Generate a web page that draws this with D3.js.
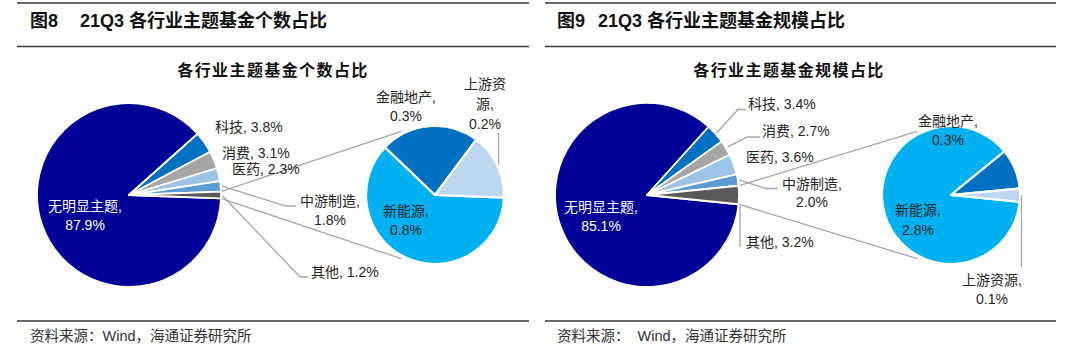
<!DOCTYPE html>
<html><head><meta charset="utf-8">
<script src="https://cdn.jsdelivr.net/npm/d3@7"></script>
<style>
html,body{margin:0;padding:0;background:#fff;}
svg{display:block;}
text{font-family:"Liberation Sans","Noto Sans CJK SC",sans-serif;white-space:pre;}
</style></head><body>
<svg id="chart" width="1080" height="350"></svg>
<script>
// ---------------- data ----------------
const figNumbers = ["图8", "图9"];
const figTitles = ["21Q3 各行业主题基金个数占比", "21Q3 各行业主题基金规模占比"];
const chartTitles = ["各行业主题基金个数占比", "各行业主题基金规模占比"];
const sourceTexts = ["资料来源：Wind，海通证券研究所", "资料来源：  Wind，海通证券研究所"];

const mainCategories = ["无明显主题", "科技", "消费", "医药", "中游制造", "其他"];
const countMainValues = [87.9, 3.8, 3.1, 2.3, 1.8, 1.2];
const scaleMainValues = [85.1, 3.4, 2.7, 3.6, 2.0, 3.2];

const subCategories = ["新能源", "金融地产", "上游资源"];
const countSubValues = [0.8, 0.3, 0.2];
const scaleSubValues = [2.8, 0.3, 0.1];

// ---------------- styles ----------------
const mainColors = ["#000096", "#0070C0", "#A6A6A6", "#9DC3E6", "#5B9BD5", "#595959"];
const subColors = ["#00B0F0", "#0070C0", "#BDD7EE"];
const mainColor = d3.scaleOrdinal().domain(mainCategories).range(mainColors);
const subColor = d3.scaleOrdinal().domain(subCategories).range(subColors);

// ---------------- layout ----------------
const panels = [
  {
    x0: 17, x1: 529, figNumX: 30, figTitleX: 80, chartTitleX: 273, sourceX: 30,
    mainValues: countMainValues, subValues: countSubValues,
    main: {cx: 129, cy: 195, r: 92}, sub: {cx: 435, cy: 195, r: 69},
    labels: {
      "无明显主题": {mode: 2, x: 85, y: 211, dy: 19, anchor: "middle", fill: "#fff"},
      "科技": {mode: 1, x: 215, y: 132, anchor: "start"},
      "消费": {mode: 1, x: 222, y: 158, anchor: "start"},
      "医药": {mode: 1, x: 232, y: 173.5, anchor: "start"},
      "中游制造": {mode: 2, x: 330, y: 206, dy: 19, anchor: "middle", leader: {frac: 0.5, pts: [[286, 206], [296, 206]]}},
      "其他": {mode: 1, x: 311, y: 277, anchor: "start", leader: {frac: 0.6, pts: [[300, 277], [308, 277]]}},
      "新能源": {mode: 2, x: 406, y: 216, dy: 19, anchor: "middle"},
      "金融地产": {mode: 2, x: 406, y: 102, dy: 19, anchor: "middle"},
      "上游资源": {mode: 3, split: 3, x: 485, y: 89, dy: 20, anchor: "middle", leader: {frac: 0.5, vToY: 133}}
    }
  },
  {
    x0: 545, x1: 1056, figNumX: 557, figTitleX: 598, chartTitleX: 789, sourceX: 557,
    mainValues: scaleMainValues, subValues: scaleSubValues,
    main: {cx: 647, cy: 195, r: 92}, sub: {cx: 951, cy: 195, r: 69},
    labels: {
      "无明显主题": {mode: 2, x: 601, y: 212, dy: 19, anchor: "middle", fill: "#fff"},
      "科技": {mode: 1, x: 748, y: 108.5, anchor: "start", leader: {frac: 0.5, pts: [[738, 109.5], [746, 109.5]]}},
      "消费": {mode: 1, x: 762, y: 136, anchor: "start", leader: {frac: 0.5, pts: [[747, 137], [760, 137]]}},
      "医药": {mode: 1, x: 746, y: 162, anchor: "start"},
      "中游制造": {mode: 2, x: 812, y: 188.5, dy: 18.5, anchor: "middle", leader: {frac: 0.5, pts: [[766, 188.5], [778, 188.5]]}},
      "其他": {mode: 1, x: 746, y: 247, anchor: "start", leader: {frac: 1, vToY: 247}},
      "新能源": {mode: 2, x: 918, y: 215, dy: 20, anchor: "middle"},
      "金融地产": {mode: 2, x: 948, y: 126, dy: 19, anchor: "middle"},
      "上游资源": {mode: 2, x: 992, y: 285, dy: 18.5, anchor: "middle", leader: {frac: 0.5, vToY: 267}}
    }
  }
];

const svg = d3.select("#chart");
const fmt = v => v.toFixed(1) + "%";
const polar = (c, ang, rad) => [c.cx + rad * Math.sin(ang), c.cy - rad * Math.cos(ang)];

function labelLines(name, value, spec) {
  if (spec.mode === 1) return [name + ", " + fmt(value)];
  if (spec.mode === 3) return [name.slice(0, spec.split), name.slice(spec.split) + ",", fmt(value)];
  return [name + ",", fmt(value)];
}

panels.forEach((p, i) => {
  const g = svg.append("g");
  const lineColor = "#3a3a3a";
  // header lines
  [3, 46.5, 321].forEach(y => {
    g.append("line").attr("x1", p.x0).attr("x2", p.x1).attr("y1", y).attr("y2", y)
      .attr("stroke", lineColor).attr("stroke-width", 1.6);
  });
  g.append("text").attr("x", p.figNumX).attr("y", 26.5).attr("font-size", 18).attr("font-weight", "bold")
    .attr("fill", "#111").text(figNumbers[i]);
  g.append("text").attr("x", p.figTitleX).attr("y", 26.5).attr("font-size", 18).attr("font-weight", "bold")
    .attr("fill", "#111").text(figTitles[i]);
  g.append("text").attr("x", p.chartTitleX).attr("y", 76).attr("text-anchor", "middle")
    .attr("font-size", 16).attr("font-weight", "bold").attr("letter-spacing", 1.4)
    .attr("fill", "#111").text(chartTitles[i]);
  g.append("text").attr("x", p.sourceX).attr("y", 341).attr("font-size", 14.5)
    .attr("fill", "#333").text(sourceTexts[i]);

  // main pie
  const mainData = mainCategories.map((c, k) => ({name: c, value: p.mainValues[k]}));
  const total = d3.sum(p.mainValues);
  const otherAng = 2 * Math.PI * p.mainValues[p.mainValues.length - 1] / total;
  const start = Math.PI / 2 + otherAng / 2;
  const pieMain = d3.pie().sort(null).value(d => d.value).startAngle(start).endAngle(start + 2 * Math.PI);
  const mainArcs = pieMain(mainData);
  const arcMain = d3.arc().innerRadius(0).outerRadius(p.main.r);

  const subData = subCategories.map((c, k) => ({name: c, value: p.subValues[k]}));
  const pieSub = d3.pie().sort(null).value(d => d.value).startAngle(start).endAngle(start + 2 * Math.PI);
  const subArcs = pieSub(subData);
  const arcSub = d3.arc().innerRadius(0).outerRadius(p.sub.r);

  // connectors
  const comb = mainArcs[mainArcs.length - 1];
  const cTop0 = polar(p.main, comb.startAngle, p.main.r);
  const cBot0 = polar(p.main, comb.endAngle, p.main.r);
  const cTop1 = polar(p.sub, -28 * Math.PI / 180, p.sub.r + 3);
  const cBot1 = polar(p.sub, (180 + 28) * Math.PI / 180, p.sub.r + 3);
  [[cTop0, cTop1], [cBot0, cBot1]].forEach(([a, b]) => {
    g.append("line").attr("x1", a[0]).attr("y1", a[1]).attr("x2", b[0]).attr("y2", b[1])
      .attr("stroke", "#A6A6A6").attr("stroke-width", 1.3);
  });

  g.append("g").attr("transform", `translate(${p.main.cx},${p.main.cy})`)
    .selectAll("path").data(mainArcs).join("path")
    .attr("d", arcMain).attr("fill", d => mainColor(d.data.name))
    .attr("stroke", "#fff").attr("stroke-width", 1.8).attr("stroke-linejoin", "round");

  g.append("g").attr("transform", `translate(${p.sub.cx},${p.sub.cy})`)
    .selectAll("path").data(subArcs).join("path")
    .attr("d", arcSub).attr("fill", d => subColor(d.data.name))
    .attr("stroke", "#fff").attr("stroke-width", 2.2).attr("stroke-linejoin", "round");

  // labels + leaders
  const allArcs = mainArcs.map(a => ({a, c: p.main})).concat(subArcs.map(a => ({a, c: p.sub})));
  allArcs.forEach(({a, c}) => {
    const name = a.data.name;
    const spec = p.labels[name];
    if (!spec) return;
    if (spec.leader) {
      const L = spec.leader;
      const ang = a.startAngle + (a.endAngle - a.startAngle) * L.frac;
      const s = polar(c, ang, c.r + 1.5);
      let pts;
      if (L.vToY !== undefined) pts = [s, [s[0], L.vToY]];
      else pts = [s].concat(L.pts);
      g.append("path").attr("d", d3.line()(pts)).attr("fill", "none")
        .attr("stroke", "#A6A6A6").attr("stroke-width", 1.3);
    }
    const lines = labelLines(name, a.data.value, spec);
    const t = g.append("text").attr("x", spec.x).attr("y", spec.y)
      .attr("text-anchor", spec.anchor).attr("font-size", 14)
      .attr("fill", spec.fill || "#262626");
    lines.forEach((ln, k) => {
      t.append("tspan").attr("x", spec.x).attr("dy", k === 0 ? 0 : spec.dy).text(ln);
    });
  });
});
</script>
</body></html>
